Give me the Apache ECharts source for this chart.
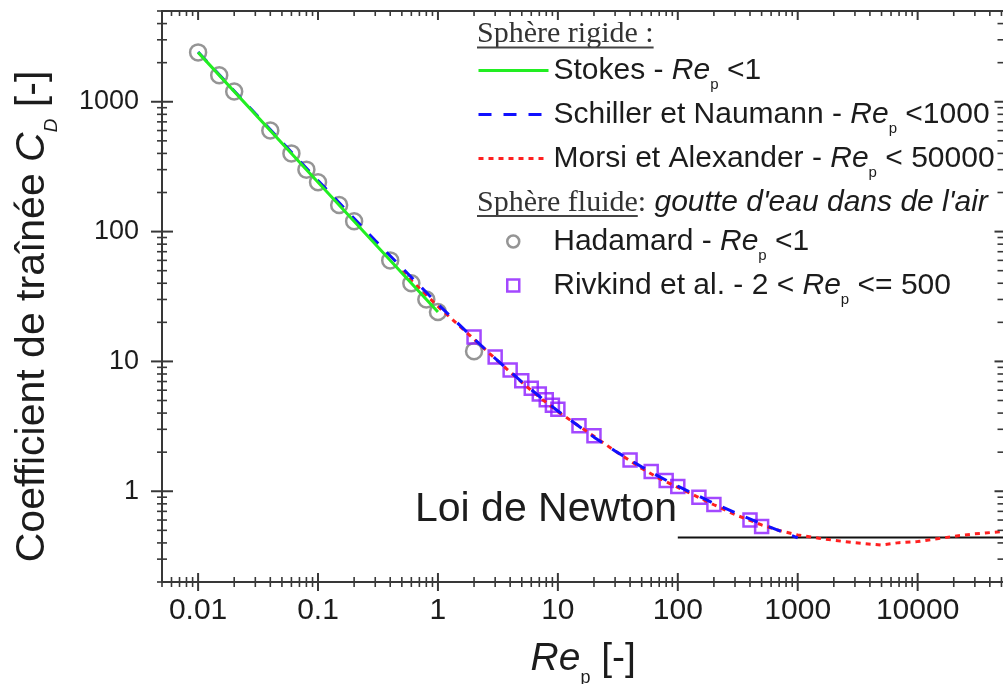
<!DOCTYPE html>
<html>
<head>
<meta charset="utf-8">
<script src="https://cdn.jsdelivr.net/npm/echarts@6/dist/echarts.min.js"></script>
<style>
html,body{margin:0;padding:0;background:#fff;}
#chart{width:1003px;height:684px;}
</style>
</head>
<body>
<div id="chart"></div>
<script>
const SANS = '"Liberation Sans", Arial, sans-serif';
const SERIF = '"Liberation Serif", "Times New Roman", serif';
const TXT = '#1c1c1c';
const AXC = '#383838';

// axis ranges and tick labels
const xMin = 0.005, xMax = 53000, yMin = 0.2, yMax = 5000;
const xTickValues = [0.01, 0.1, 1, 10, 100, 1000, 10000];
const xTickLabels = ['0.01', '0.1', '1', '10', '100', '1000', '10000'];
const yTickValues = [1, 10, 100, 1000];
const yTickLabels = ['1', '10', '100', '1000'];

// Stokes (rigid sphere), Re < 1
const stokesRe = [0.01, 0.1, 1];
const stokesCd = [2400, 240, 24];

// Schiller & Naumann, Re < 1000
const schillerRe = [0.01, 0.03, 0.1, 0.3, 1, 2, 3, 5, 7, 10, 20, 30, 50, 70, 100, 200, 300, 500, 700, 1000];
const schillerCd = [2415, 811, 247.4, 85.2, 27.6, 14.9, 10.55, 6.97, 5.39, 4.15, 2.61, 2.04, 1.54, 1.295, 1.094, 0.807, 0.684, 0.561, 0.498, 0.438];

// Morsi & Alexander, Re < 50000
const morsiRe = [0.5, 1, 2, 3, 5, 7, 10, 20, 30, 50, 70, 100, 200, 300, 500, 700, 1000, 1500, 2000, 3000, 5000, 7000, 10000, 15000, 20000, 30000, 50000];
const morsiCd = [49.5, 26.5, 14.83, 10.51, 6.90, 5.31, 4.10, 2.65, 2.04, 1.50, 1.257, 1.07, 0.787, 0.661, 0.550, 0.499, 0.460, 0.435, 0.419, 0.401, 0.385, 0.402, 0.410, 0.432, 0.4495, 0.470, 0.488];

// Hadamard (fluid sphere), Re < 1
const hadamardRe = [0.01, 0.015, 0.02, 0.04, 0.06, 0.08, 0.1, 0.15, 0.2, 0.4, 0.6, 0.8, 1, 2];
const hadamardCd = [2400, 1600, 1200, 600, 400, 300, 240, 160, 120, 60, 40, 30, 24, 12];

// Rivkind et al., 2 < Re <= 500
const rivkindRe = [2, 3, 4, 5, 6, 7, 8, 9, 10, 15, 20, 40, 60, 80, 100, 150, 200, 400, 500];
const rivkindCd = [15.4, 10.8, 8.6, 7.1, 6.2, 5.6, 5.06, 4.6, 4.29, 3.19, 2.67, 1.74, 1.42, 1.21, 1.09, 0.90, 0.79, 0.60, 0.535];

// Newton's law
const newtonRe = [100, 100000];
const newtonCd = [0.44, 0.44];

const zip = (a, b) => a.map((v, i) => [v, b[i]]);
const labelFor = (vals, labs) => (v) => {
  for (let i = 0; i < vals.length; i++) if (Math.abs(v / vals[i] - 1) < 1e-6) return labs[i];
  return '';
};

// tick positions (decoration)
const xTicks = [], yTicks = [];
for (let e = -3; e <= 4; e++) for (let m = 1; m <= 9; m++) {
  const v = m * Math.pow(10, e);
  if (v >= xMin * 0.999 && v <= xMax * 1.001) xTicks.push([v, yMin, m === 1 ? 1 : 0]);
}
for (let e = -1; e <= 3; e++) for (let m = 1; m <= 9; m++) {
  const v = m * Math.pow(10, e);
  if (v >= yMin * 0.999 && v <= yMax * 1.001) yTicks.push([xMin, v, m === 1 ? 1 : 0]);
}

const legendPre = {
  'Stokes': 'Stokes - ',
  'Schiller et Naumann': 'Schiller et Naumann - ',
  'Morsi et Alexander': 'Morsi et Alexander - ',
  'Hadamard': 'Hadamard - ',
  'Rivkind et al.': 'Rivkind et al. - 2 < '
};
const legendPost = {
  'Stokes': ' <1',
  'Schiller et Naumann': ' <1000',
  'Morsi et Alexander': ' < 50000',
  'Hadamard': ' <1',
  'Rivkind et al.': ' <= 500'
};
const legendRich = {
  f: {fontSize: 30, fontFamily: SANS, color: TXT, lineHeight: 36},
  g: {fontSize: 30, fontFamily: SANS, color: TXT, lineHeight: 36, padding: [0, 0, 0, 29]},
  n: {fontSize: 30, fontFamily: SANS, color: TXT, lineHeight: 36},
  i: {fontSize: 30, fontFamily: SANS, fontStyle: 'italic', color: TXT, lineHeight: 36},
  s: {fontSize: 15, fontFamily: SANS, color: TXT, lineHeight: 15, padding: [28, 0, 0, 0]}
};
const legendFmt = (first) => (name) => '{' + first + '|' + legendPre[name] + '}{i|Re}{s|p}{n|' + legendPost[name] + '}';

// text width measurement for underlines
const mctx = document.createElement('canvas').getContext('2d');
function textW(font, t) { mctx.font = font; return mctx.measureText(t).width; }
const h1Font = '30px ' + SERIF;
const h1W = textW(h1Font, 'Sphère rigide :');
const h2W = textW(h1Font, 'Sphère fluide');

const chart = echarts.init(document.getElementById('chart'), null, {renderer: 'canvas'});

const tickStyle = (major) => ({stroke: AXC, lineWidth: major ? 2 : 1.6});

const option = {
  animation: false,
  backgroundColor: '#fff',
  grid: {left: 162, right: -1.5, top: 11, bottom: 102, containLabel: false, outerBoundsMode: 'none'},
  xAxis: [{
    type: 'log', logBase: 10, min: xMin, max: xMax, position: 'bottom',
    axisLine: {show: true, lineStyle: {color: AXC, width: 2}},
    axisTick: {show: false}, splitLine: {show: false}, minorTick: {show: false},
    axisLabel: {show: true, formatter: labelFor(xTickValues, xTickLabels), fontSize: 30, fontFamily: SANS, color: TXT, margin: 14, showMinLabel: true, showMaxLabel: true},
    name: '{i|Re}{s|p}{n| [-]}', nameLocation: 'middle', nameGap: 45,
    nameTextStyle: {rich: {
      i: {fontSize: 39, fontFamily: SANS, fontStyle: 'italic', color: TXT, lineHeight: 44},
      n: {fontSize: 39, fontFamily: SANS, color: TXT, lineHeight: 44},
      s: {fontSize: 18, fontFamily: SANS, color: TXT, lineHeight: 18, padding: [38, 0, 0, 0]}
    }}
  }, {
    type: 'log', logBase: 10, min: xMin, max: xMax, position: 'top',
    axisLine: {show: true, lineStyle: {color: AXC, width: 2}},
    axisTick: {show: false}, splitLine: {show: false}, axisLabel: {show: false}
  }],
  yAxis: [{
    type: 'log', logBase: 10, min: yMin, max: yMax, position: 'left',
    axisLine: {show: true, lineStyle: {color: AXC, width: 2}},
    axisTick: {show: false}, splitLine: {show: false}, minorTick: {show: false},
    axisLabel: {show: true, formatter: labelFor(yTickValues, yTickLabels), fontSize: 27, fontFamily: SANS, color: TXT, margin: 23},
    name: '{n|Coefficient de traînée }{i|C}{s|D}{n| [-]}', nameLocation: 'middle', nameGap: 106,
    nameTextStyle: {padding: [0, 40, 0, 0], rich: {
      n: {fontSize: 41, fontFamily: SANS, color: TXT, lineHeight: 46},
      i: {fontSize: 41, fontFamily: SANS, fontStyle: 'italic', color: TXT, lineHeight: 46},
      s: {fontSize: 19, fontFamily: SANS, fontStyle: 'italic', color: TXT, lineHeight: 19, padding: [38, 0, 0, 0]}
    }}
  }, {
    type: 'log', logBase: 10, min: yMin, max: yMax, position: 'right',
    axisLine: {show: true, lineStyle: {color: AXC, width: 2}},
    axisTick: {show: false}, splitLine: {show: false}, axisLabel: {show: false}
  }],
  legend: [{
    orient: 'vertical', left: 477, top: 49, padding: 0, itemGap: 1,
    itemWidth: 70, itemHeight: 14, selectedMode: false,
    data: ['Stokes', 'Schiller et Naumann', 'Morsi et Alexander'],
    formatter: legendFmt('f'),
    textStyle: {fontSize: 30, fontFamily: SANS, color: TXT, rich: legendRich},
    lineStyle: {width: 3},
    itemStyle: {opacity: 0}
  }, {
    orient: 'vertical', left: 506, top: 220, padding: 0, itemGap: 1,
    itemWidth: 12, itemHeight: 12, selectedMode: false,
    data: ['Hadamard', 'Rivkind et al.'],
    formatter: legendFmt('g'),
    textStyle: {fontSize: 30, fontFamily: SANS, color: TXT, rich: legendRich},
    itemStyle: {borderWidth: 2.5}
  }],
  graphic: [
    {type: 'text', x: 477, y: 34.5, z: 50,
      style: {text: 'Sphère rigide :', font: h1Font, fill: '#333', verticalAlign: 'middle', textVerticalAlign: 'middle', align: 'left', textAlign: 'left'}},
    {type: 'line', z: 50, shape: {x1: 477, y1: 47.5, x2: 477 + h1W, y2: 47.5}, style: {stroke: '#444', lineWidth: 1.8}},
    {type: 'text', x: 477, y: 203, z: 50,
      style: {text: '{a|Sphère fluide}{a|:}{c| goutte d\'eau dans de l\'air}', verticalAlign: 'middle', textVerticalAlign: 'middle', align: 'left', textAlign: 'left',
        rich: {
          a: {font: h1Font, fill: '#333', color: '#333'},
          c: {fontSize: 30, fontFamily: SANS, fontStyle: 'italic', fill: TXT, color: TXT}
        }}},
    {type: 'line', z: 50, shape: {x1: 477, y1: 216, x2: 477 + h2W, y2: 216}, style: {stroke: '#444', lineWidth: 1.8}},
    {type: 'text', x: 415, y: 509.5, z: 50,
      style: {text: 'Loi de Newton', font: '41px ' + SANS, fill: TXT, verticalAlign: 'middle', textVerticalAlign: 'middle', align: 'left', textAlign: 'left'}}
  ],
  series: [
    {
      name: 'Hadamard', type: 'scatter', z: 3, symbol: 'circle', symbolSize: 16,
      itemStyle: {color: 'rgba(255,255,255,0)', borderColor: '#7a7a7a', borderWidth: 2.5},
      data: zip(hadamardRe, hadamardCd)
    },
    {
      name: 'Rivkind et al.', type: 'scatter', z: 3, symbol: 'rect', symbolSize: 13,
      itemStyle: {color: 'rgba(255,255,255,0)', borderColor: '#8c1aff', borderWidth: 2.5},
      data: zip(rivkindRe, rivkindCd)
    },
    {
      name: 'Newton', type: 'line', z: 4, symbol: 'none', clip: true,
      lineStyle: {color: '#111', width: 2},
      data: zip(newtonRe, newtonCd)
    },
    {
      name: 'Morsi et Alexander', type: 'line', z: 5, symbol: 'none', clip: true,
      itemStyle: {color: '#ff2020'},
      lineStyle: {color: '#ff2020', width: 3, type: [5, 5]},
      data: zip(morsiRe, morsiCd)
    },
    {
      name: 'Schiller et Naumann', type: 'line', z: 6, symbol: 'none', clip: true,
      itemStyle: {color: '#1010ff'},
      lineStyle: {color: '#1010ff', width: 3, type: [13, 12]},
      data: zip(schillerRe, schillerCd)
    },
    {
      name: 'Stokes', type: 'line', z: 7, symbol: 'none', clip: true,
      itemStyle: {color: '#22ee22'},
      lineStyle: {color: '#22ee22', width: 3},
      data: zip(stokesRe, stokesCd)
    },
    {
      name: 'xticks', type: 'custom', z: 10, silent: true, clip: false,
      coordinateSystem: 'cartesian2d', xAxisIndex: 0, yAxisIndex: 0,
      data: xTicks,
      renderItem: (params, api) => {
        const v = api.value(0), major = api.value(2) === 1;
        const b = api.coord([v, yMin]), t = api.coord([v, yMax]);
        const L = major ? 9 : 5;
        return {type: 'group', children: [
          {type: 'line', shape: {x1: b[0], y1: b[1] - L, x2: b[0], y2: b[1] + L}, style: tickStyle(major)},
          {type: 'line', shape: {x1: t[0], y1: t[1], x2: t[0], y2: t[1] + L}, style: tickStyle(major)}
        ]};
      }
    },
    {
      name: 'yticks', type: 'custom', z: 10, silent: true, clip: false,
      coordinateSystem: 'cartesian2d', xAxisIndex: 0, yAxisIndex: 0,
      data: yTicks,
      renderItem: (params, api) => {
        const v = api.value(1), major = api.value(2) === 1;
        const l = api.coord([xMin, v]), r = api.coord([xMax, v]);
        const L = major ? 11 : 5;
        return {type: 'group', children: [
          {type: 'line', shape: {x1: l[0] - L, y1: l[1], x2: l[0] + L, y2: l[1]}, style: tickStyle(major)},
          {type: 'line', shape: {x1: r[0] - (major ? 10 : 7), y1: r[1], x2: r[0], y2: r[1]}, style: tickStyle(major)}
        ]};
      }
    }
  ]
};
chart.setOption(option);
</script>
</body>
</html>
